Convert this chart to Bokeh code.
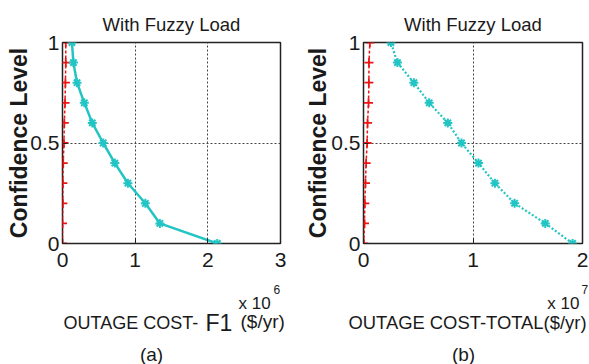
from bokeh.plotting import figure
from bokeh.layouts import row, column
from bokeh.models import Range1d, FixedTicker, Title, Label
from bokeh.embed import file_html
from bokeh.resources import INLINE

# ---------------- data ----------------
confidence = [0.0, 0.1, 0.2, 0.3, 0.4, 0.5, 0.6, 0.7, 0.8, 0.9, 1.0]

# panel (a): outage cost F1, x 10^6 $/yr
a_fuzzy = [2.13, 1.34, 1.14, 0.90, 0.72, 0.56, 0.41, 0.30, 0.20, 0.15, 0.13]
a_crisp = [0.0, 0.0, 0.005, 0.005, 0.01, 0.02, 0.025, 0.035, 0.04, 0.045, 0.045]

# panel (b): outage cost total, x 10^7 $/yr
b_fuzzy = [1.91, 1.66, 1.38, 1.20, 1.05, 0.895, 0.77, 0.60, 0.46, 0.31, 0.25]
b_crisp = [0.003, 0.009, 0.012, 0.018, 0.024, 0.033, 0.037, 0.046, 0.049, 0.05, 0.058]

a_xticks = [0, 1, 2, 3]
b_xticks = [0, 1, 2]
yticks = [0, 0.5, 1]
ytick_labels = ["0", "0.5", "1"]

title_text = "With Fuzzy Load"
ylabel_text = "Confidence Level"

FONT = "Liberation Sans, Arial, sans-serif"
TXT = "#1a1a1a"
RED = "#ee1414"
CYAN = "#22c4c4"

MAIN_H = 280   # plot part height
TEXT_H = 84    # caption strip height
PAGE_W = 589
STRIP_TOP = 285  # where the strip actually starts on the page


def make_fig(width, bl, br, xmax, xticks):
    p = figure(width=width, height=MAIN_H, x_range=Range1d(0, xmax), y_range=Range1d(0, 1),
               output_backend="svg", toolbar_location=None,
               min_border_left=bl, min_border_right=br,
               min_border_top=42, min_border_bottom=37)
    p.background_fill_color = "white"
    p.border_fill_color = "white"
    p.outline_line_color = "#222222"
    p.outline_line_width = 1.5
    p.xaxis.ticker = FixedTicker(ticks=xticks)
    p.yaxis.ticker = FixedTicker(ticks=yticks)
    p.yaxis.major_label_overrides = {t: s for t, s in zip(yticks, ytick_labels)}
    p.xaxis.major_label_overrides = {t: str(t) for t in xticks}
    for ax in (p.xaxis, p.yaxis):
        ax.axis_line_color = None
        ax.major_tick_in = 5
        ax.major_tick_out = 0
        ax.minor_tick_line_color = None
        ax.major_tick_line_color = "#222222"
        ax.major_label_text_font = FONT
        ax.major_label_text_font_size = "21px"
        ax.major_label_text_color = TXT
    p.yaxis.major_label_standoff = 3
    p.xaxis.major_label_standoff = 9
    p.yaxis.axis_label = ylabel_text
    p.yaxis.axis_label_text_font = FONT
    p.yaxis.axis_label_text_font_style = "bold"
    p.yaxis.axis_label_text_font_size = "23px"
    p.yaxis.axis_label_text_color = TXT
    for g in (p.xgrid, p.ygrid):
        g.grid_line_color = "#444444"
        g.grid_line_dash = "2 2"
        g.grid_line_width = 1
    return p


def add_title(p, text, offset):
    p.add_layout(Title(text=text, align="center", offset=offset, standoff=16,
                       text_font=FONT, text_font_size="18.5px", text_font_style="normal",
                       text_color=TXT), "above")


def put(t, x, y, text, size, align="left"):
    # x, y: page pixels (y = baseline)
    t.add_layout(Label(x=x, y=y - STRIP_TOP, x_units="canvas", y_units="canvas", text=text,
                       text_font=FONT, text_font_size=size, text_align=align,
                       text_baseline="alphabetic", text_color=TXT))


# ---------------- panel (a) ----------------
pa = make_fig(290, 62, 10, 3, a_xticks)
pa.yaxis.axis_label_standoff = -5
pa.line(a_crisp, confidence, line_color=RED, line_width=1.5, line_dash="3 2")
pa.scatter(a_crisp, confidence, marker="cross", size=9, line_color=RED, line_width=1.8)
pa.line(a_fuzzy, confidence, line_color=CYAN, line_width=2.5)
pa.scatter(a_fuzzy, confidence, marker="asterisk", size=9, line_color=CYAN, line_width=2)
add_title(pa, title_text, -6)

# ---------------- panel (b) ----------------
pb = make_fig(299, 73, 7, 2, b_xticks)
pb.yaxis.axis_label_standoff = -3
pb.line(b_crisp, confidence, line_color=RED, line_width=1.5, line_dash="3 2")
pb.scatter(b_crisp, confidence, marker="cross", size=9, line_color=RED, line_width=1.8)
pb.line(b_fuzzy, confidence, line_color=CYAN, line_width=2.2, line_dash="2 2")
pb.scatter(b_fuzzy, confidence, marker="asterisk", size=9, line_color=CYAN, line_width=2)
add_title(pb, title_text, -12)

# ---------------- caption strip (axis titles, scale factors, panel letters) ----------------
strip = figure(width=PAGE_W, height=TEXT_H, x_range=Range1d(0, PAGE_W),
               y_range=Range1d(TEXT_H, 0), output_backend="svg", toolbar_location=None,
               x_axis_location=None, y_axis_location=None,
               min_border=0, min_border_left=0, min_border_right=0,
               min_border_top=0, min_border_bottom=0)
strip.outline_line_color = None
strip.grid.visible = False
strip.background_fill_color = "white"
strip.border_fill_color = "white"

put(strip, 238, 308, "x 10", "17px")
put(strip, 273, 294, "6", "12px")
put(strip, 63, 327, "OUTAGE COST-", "18px")
put(strip, 205, 327, "F1", "23px")
put(strip, 240, 326, "($/yr)", "19px")
put(strip, 151, 359, "(a)", "19px", align="center")

put(strip, 579, 308, "x 10", "17px", align="right")
put(strip, 581, 294, "7", "12px")
put(strip, 586, 327, "OUTAGE COST-TOTAL($/yr)", "18.4px", align="right")
put(strip, 463, 359, "(b)", "19px", align="center")

layout = column(row(pa, pb), strip)
open("out.html", "w").write(file_html(layout, INLINE))
